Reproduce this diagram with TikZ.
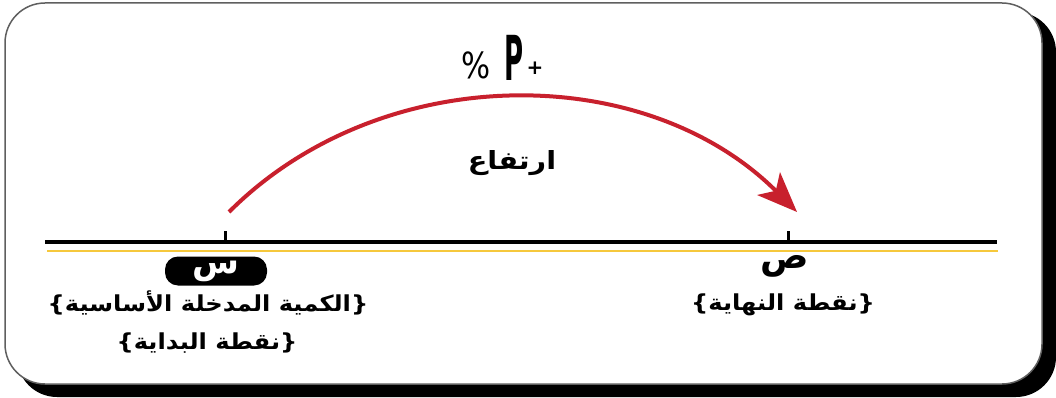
\documentclass[tikz,border=0pt]{standalone}
\usepackage{fontspec}
\usetikzlibrary{arrows.meta}
\setmainfont{DejaVu Sans}
\newfontfamily\arabicfont[Script=Arabic]{DejaVu Sans}
\TeXXeTstate=1
\definecolor{arcred}{RGB}{200,32,45}
\definecolor{axisyellow}{RGB}{246,200,60}
\definecolor{framegray}{RGB}{95,95,95}
\newcommand{\artext}[1]{\beginR #1\endR}
% the Arabic-script font mirrors brackets, so they are typed swapped
\newcommand{\brtext}[1]{\}\beginR #1\endR\{}
\tikzset{
  axisline/.style={line width=4pt, black},
  yellowline/.style={line width=2pt, axisyellow},
  tickmark/.style={line width=3pt, black},
  arclabel/.style={inner sep=0pt, font=\arabicfont\bfseries\fontsize{25}{28}\selectfont},
  lbl/.style={inner sep=0pt, font=\arabicfont\bfseries\fontsize{22}{26}\selectfont},
  pill/.style={fill=black, rounded corners=13pt, minimum width=102pt, minimum height=29pt, inner sep=0pt, text=white, font=\arabicfont\bfseries\fontsize{34}{34}\selectfont},
}
\begin{document}
\begin{tikzpicture}[x=1pt,y=-1pt]
\useasboundingbox (0,0) rectangle (1056,398);
% frame with shadow
\fill[black, rounded corners=40pt] (17,12) rectangle (1056,397);
\draw[fill=white, draw=framegray, line width=1.5pt, rounded corners=40pt] (5,3) rectangle (1042,384);
% axis
\coordinate (axL) at (45,242);
\coordinate (axR) at (997,242);
\coordinate (yL) at (47,251);
\coordinate (yR) at (998,251);
\draw[yellowline] (yL) -- (yR);
\draw[axisline] (axL) -- (axR);
% ticks
\coordinate (tickA) at (225,242);
\coordinate (tickB) at (788,242);
\draw[tickmark] (tickA) -- ++(0,-11);
\draw[tickmark] (tickB) -- ++(0,-11);
% arc
\coordinate (arcS) at (229,212);
\coordinate (arcE) at (797,212);
\draw[arcred, line width=4pt, -{Stealth[length=40pt,width=32pt,inset=10pt]}]
  (arcS) .. controls (381,60) and (645,60) .. (arcE);
% top label
\node[inner sep=0pt, font=\fontsize{36}{36}\selectfont] (pct) at (476,65) {\scalebox{0.85}[1]{\%}};
\node[inner sep=0pt, font=\bfseries\fontsize{62}{62}\selectfont] (P) at (514,57.5) {\scalebox{0.42}[1]{P}};
\node[inner sep=0pt, font=\bfseries\fontsize{20}{20}\selectfont] (plus) at (535,68.5) {+};
\node[arclabel] (rise) at (512,163) {\scalebox{1.15}[1]{\artext{ارتفاع}}};
% start point
\node[pill] (s) at (216,271) {\artext{س}};
\node[lbl] (sl1) at (208,303) {\scalebox{1.1}[1]{\brtext{الكمية المدخلة الأساسية}}};
\node[lbl] (sl2) at (207,343) {\scalebox{1.1}[1]{\brtext{نقطة البداية}}};
% end point
\node[inner sep=0pt, font=\arabicfont\bfseries\fontsize{36}{36}\selectfont] (p) at (785,266) {\artext{ص}};
\node[lbl] (pl) at (783,305) {\scalebox{1.1}[1]{\brtext{نقطة النهاية}}};
\end{tikzpicture}
\end{document}
